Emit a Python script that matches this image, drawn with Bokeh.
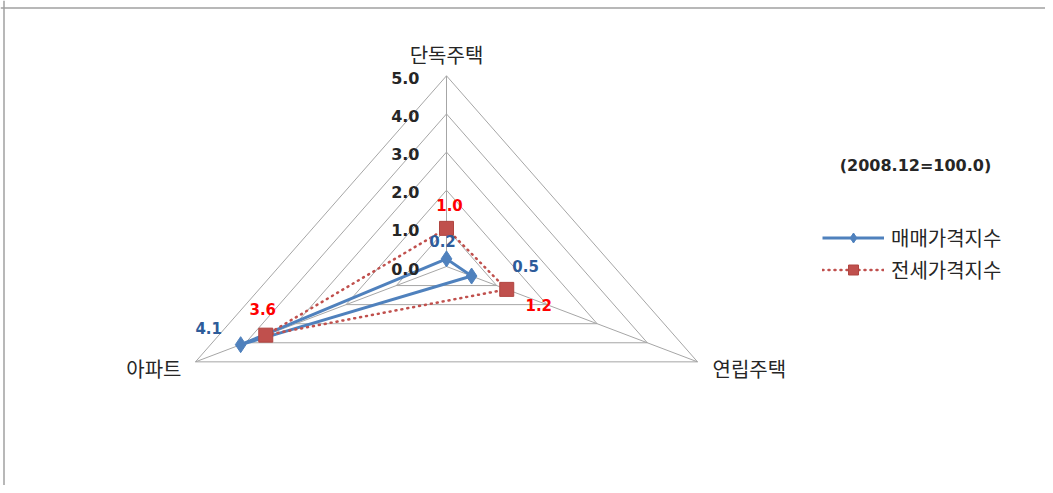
import math
from bokeh.plotting import figure
from bokeh.models import Range1d, Label, Span, Legend, LegendItem
from bokeh.embed import file_html
from bokeh.resources import INLINE

# ---- data ----
categories = ["단독주택", "연립주택", "아파트"]
sale_index = [0.2, 0.5, 4.1]
jeonse_index = [1.0, 1.2, 3.6]
ring_levels = [1, 2, 3, 4, 5]
tick_values = [0, 1, 2, 3, 4, 5]
tick_labels = ["0.0", "1.0", "2.0", "3.0", "4.0", "5.0"]
series_names = ["매매가격지수", "전세가격지수"]
note_text = "(2008.12=100.0)"

# ---- layout / style ----
W, H = 1045, 485
CX, CY = 446.0, 266.0
KX, KY = 57.97, 38.14
ANGLES = [90.0, -30.0, 210.0]
BLUE, RED = "#4f81bd", "#c0504d"
GRID = "#a6a6a6"
NUM_FONT = "DejaVu Sans"
KR_FONT = "Noto Sans CJK KR"


def to_xy(v, ang):
    a = math.radians(ang)
    return CX + v * KX * math.cos(a), CY - v * KY * math.sin(a)


p = figure(width=W, height=H, x_range=Range1d(0, W), y_range=Range1d(H, 0),
           output_backend="svg", toolbar_location=None, min_border=0,
           x_axis_location=None, y_axis_location=None)
p.grid.visible = False
p.outline_line_color = None
p.background_fill_color = "white"

# chart-area frame (top and left edges visible in the reference)
p.add_layout(Span(location=7.5, dimension="width", line_color="#a0a0a0", line_width=1.5))
p.add_layout(Span(location=3.5, dimension="height", line_color="#a0a0a0", line_width=1.5))

# grid rings
xs_r, ys_r = [], []
for lv in ring_levels:
    pts = [to_xy(lv, a) for a in ANGLES]
    pts.append(pts[0])
    xs_r.append([q[0] for q in pts])
    ys_r.append([q[1] for q in pts])
p.multi_line(xs_r, ys_r, line_color=GRID, line_width=1)

# spokes
top = max(ring_levels)
ends = [to_xy(top, a) for a in ANGLES]
p.segment(x0=[CX] * 3, y0=[CY] * 3, x1=[e[0] for e in ends], y1=[e[1] for e in ends],
          line_color=GRID, line_width=1)

# tick labels (right-aligned, left of the top spoke)
for v, t in zip(tick_values, tick_labels):
    x, y = to_xy(v, 90)
    p.add_layout(Label(x=x, y=y, text=t, x_offset=-27, y_offset=-2, text_align="right",
                       text_baseline="middle", text_font=NUM_FONT, text_font_size="16px",
                       text_font_style="bold", text_color="#262626"))

# category labels
cat_off = [(0, -21, "center"), (15, 7, "left"), (-14, 7, "right")]
for c, a, (dx, dy, al) in zip(categories, ANGLES, cat_off):
    x, y = to_xy(top, a)
    p.add_layout(Label(x=x, y=y, text=c, x_offset=dx, y_offset=-dy, text_align=al,
                       text_baseline="middle", text_font=KR_FONT, text_font_size="20px",
                       text_color="#262626"))


def series(vals):
    pts = [to_xy(v, a) for v, a in zip(vals, ANGLES)]
    return [q[0] for q in pts], [q[1] for q in pts]


sx, sy = series(sale_index)
jx, jy = series(jeonse_index)

r_sale_line = p.line(sx + [sx[0]], sy + [sy[0]], line_color=BLUE, line_width=3)
r_sale_mk = p.scatter(sx, sy, marker="diamond", size=16, fill_color=BLUE, line_color=BLUE)
r_j_line = p.line(jx + [jx[0]], jy + [jy[0]], line_color=RED, line_width=2.5,
                  line_dash="1 5", line_cap="round")
r_j_mk = p.scatter(jx, jy, marker="square", size=14, fill_color=RED, line_color="#b04540")

# data labels
sale_off = [(-4, -18), (54, -10), (-32, -17)]
j_off = [(3, -23), (32, 16), (-3, -26)]
for xs_, ys_, vals, offs, col in [(sx, sy, sale_index, sale_off, "#2e5c9a"),
                                   (jx, jy, jeonse_index, j_off, "#ff0000")]:
    for x, y, v, (dx, dy) in zip(xs_, ys_, vals, offs):
        p.add_layout(Label(x=x, y=y, text=f"{v:.1f}", x_offset=dx, y_offset=-dy,
                           text_align="center", text_baseline="middle", text_font=NUM_FONT,
                           text_font_size="15px", text_font_style="bold", text_color=col))

# note
p.add_layout(Label(x=915, y=165, text=note_text, text_align="center", text_baseline="middle",
                   text_font=NUM_FONT, text_font_size="16px", text_font_style="bold",
                   text_color="#262626"))

legend = Legend(items=[LegendItem(label=series_names[0], renderers=[r_sale_line, r_sale_mk]),
                       LegendItem(label=series_names[1], renderers=[r_j_line, r_j_mk])],
                location=(822, 201), glyph_width=62, glyph_height=25, label_height=25,
                spacing=3, padding=0, margin=0, label_standoff=7,
                label_text_font=KR_FONT, label_text_font_size="20px", label_text_color="#262626",
                border_line_color=None, background_fill_alpha=0)
p.add_layout(legend)

open("out.html", "w").write(file_html(p, INLINE))
